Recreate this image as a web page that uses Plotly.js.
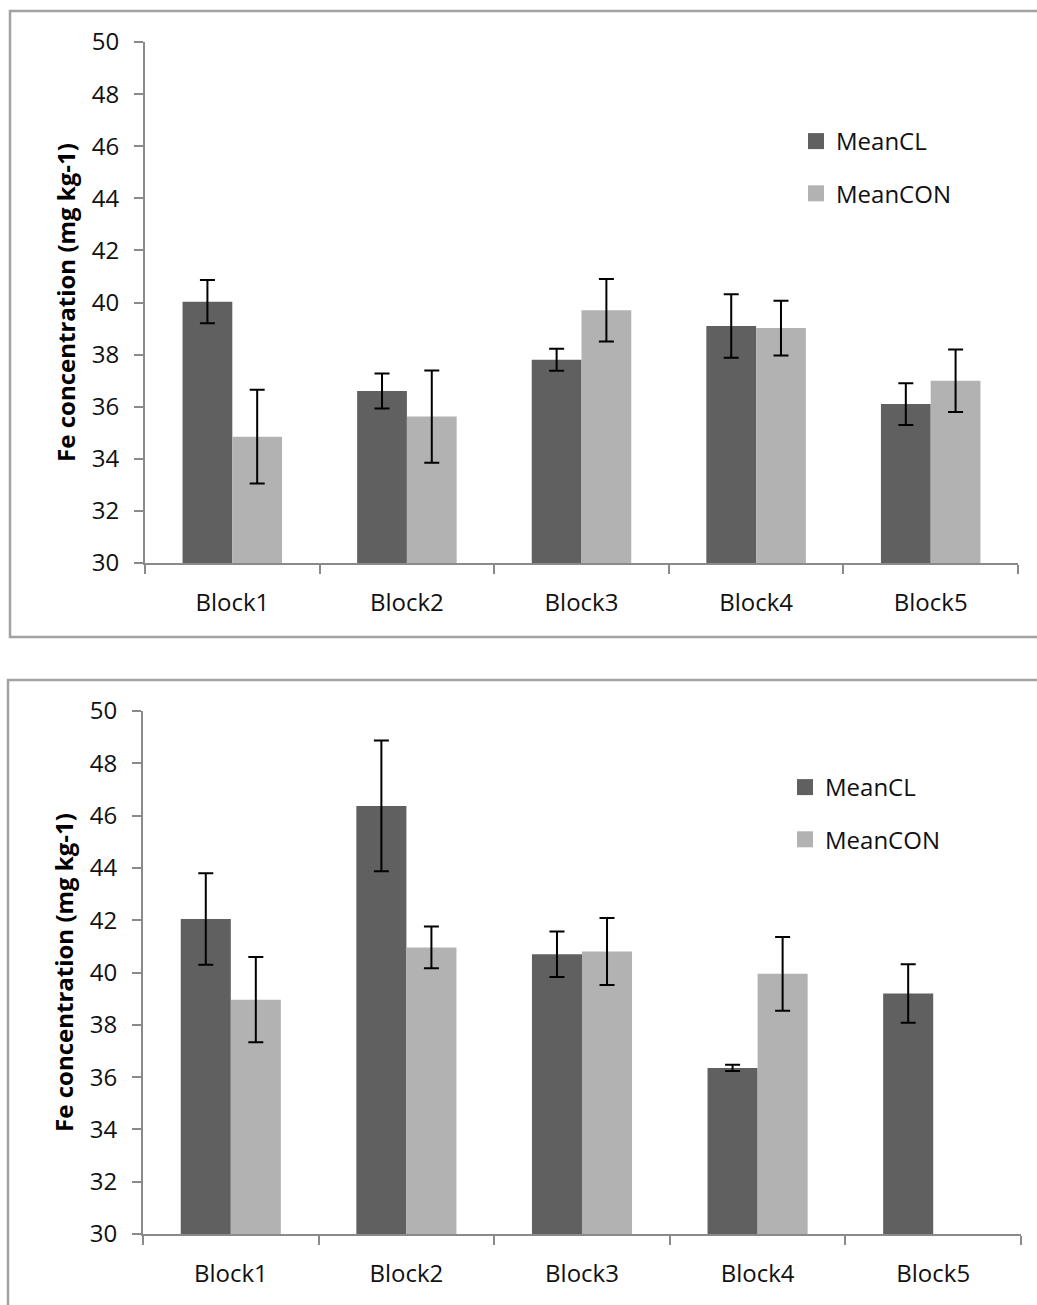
<!DOCTYPE html>
<html>
<head>
<meta charset="utf-8">
<script src="https://cdn.plot.ly/plotly-3.0.1.min.js"></script>
<style>
  html, body { margin: 0; padding: 0; background: #ffffff; }
  #chart { width: 1037px; height: 1305px; }
</style>
</head>
<body>
<div id="chart"></div>
<script>
// Fe concentration per block, two sampling sets (upper and lower panel)
const categories = ['Block1', 'Block2', 'Block3', 'Block4', 'Block5'];

const upperMeanCL     = [40.03, 36.60, 37.80, 39.10, 36.10];
const upperMeanCLErr  = [0.83, 0.67, 0.42, 1.22, 0.80];
const upperMeanCON    = [34.85, 35.62, 39.70, 39.02, 37.00];
const upperMeanCONErr = [1.80, 1.77, 1.20, 1.05, 1.20];

const lowerMeanCL     = [42.05, 46.37, 40.70, 36.35, 39.20];
const lowerMeanCLErr  = [1.75, 2.50, 0.87, 0.12, 1.12];
const lowerMeanCON    = [38.96, 40.96, 40.80, 39.95, null];
const lowerMeanCONErr = [1.63, 0.80, 1.28, 1.41, null];

const seriesNames = ['MeanCL', 'MeanCON'];
const yTitle = 'Fe concentration (mg kg-1)';

const W = 1037, H = 1305;
const DARK = '#606060', LIGHT = '#b2b2b2';
const AXIS = '#8a8a8a', FRAME = '#a3a3a3';
const FONT = 'Open Sans, Liberation Sans, sans-serif';

const px = v => v / W;          // pixel -> paper x
const py = v => 1 - v / H;      // pixel -> paper y

function errBars(arr) {
  return { type: 'data', array: arr, visible: true, color: '#000000', thickness: 2, width: 7.5 };
}

function barTrace(name, y, err, color, xa, ya, group) {
  return {
    type: 'bar', name: name, x: categories, y: y,
    xaxis: xa, yaxis: ya, legendgroup: group, showlegend: false,
    marker: { color: color, line: { width: 0 } },
    error_y: errBars(err),
    hoverinfo: 'x+y+name'
  };
}

// Legend key: a larger square swatch than the default bar key
function keyTrace(name, color, xa, ya, legendId, group) {
  return {
    type: 'scatter', mode: 'markers', name: name,
    x: [null], y: [null], xaxis: xa, yaxis: ya,
    legend: legendId, legendgroup: group, showlegend: true,
    marker: { symbol: 'square', size: 18, color: color, line: { width: 0 } },
    hoverinfo: 'skip'
  };
}

const data = [
  barTrace(seriesNames[0], upperMeanCL,  upperMeanCLErr,  DARK,  'x',  'y',  'u1'),
  barTrace(seriesNames[1], upperMeanCON, upperMeanCONErr, LIGHT, 'x',  'y',  'u2'),
  barTrace(seriesNames[0], lowerMeanCL,  lowerMeanCLErr,  DARK,  'x2', 'y2', 'l1'),
  barTrace(seriesNames[1], lowerMeanCON, lowerMeanCONErr, LIGHT, 'x2', 'y2', 'l2'),
  keyTrace(seriesNames[0], DARK,  'x',  'y',  'legend',  'u1'),
  keyTrace(seriesNames[1], LIGHT, 'x',  'y',  'legend',  'u2'),
  keyTrace(seriesNames[0], DARK,  'x2', 'y2', 'legend2', 'l1'),
  keyTrace(seriesNames[1], LIGHT, 'x2', 'y2', 'legend2', 'l2')
];

function xAxis(domain, anchor) {
  return {
    domain: domain, anchor: anchor, type: 'category',
    showline: true, linecolor: AXIS, linewidth: 2,
    ticks: 'outside', tickson: 'boundaries', ticklen: 9, tickwidth: 2, tickcolor: AXIS,
    ticklabelstandoff: 17,
    tickfont: { family: FONT, size: 24, color: '#111111' },
    showgrid: false, zeroline: false, fixedrange: true
  };
}

function yAxis(domain, anchor) {
  return {
    domain: domain, anchor: anchor, range: [30, 50], tick0: 30, dtick: 2,
    showline: true, linecolor: AXIS, linewidth: 2,
    ticks: 'outside', ticklen: 9, tickwidth: 2, tickcolor: AXIS,
    ticklabelstandoff: 10,
    tickfont: { family: FONT, size: 24, color: '#111111' },
    showgrid: false, zeroline: false, fixedrange: true,
    title: { text: yTitle, standoff: 9, font: { family: FONT, size: 24, weight: 'bold', color: '#000000' } }
  };
}

function legendBox(x, y) {
  return {
    x: x, y: y, xanchor: 'left', yanchor: 'top',
    bgcolor: 'rgba(0,0,0,0)', borderwidth: 0,
    font: { family: FONT, size: 24, color: '#111111' },
    tracegroupgap: 18, itemclick: false, itemdoubleclick: false
  };
}

const layout = {
  width: W, height: H,
  margin: { l: 0, r: 0, t: 0, b: 0, pad: 0 },
  paper_bgcolor: '#ffffff', plot_bgcolor: '#ffffff',
  barmode: 'group', bargap: 0.43, bargroupgap: 0,
  showlegend: true,
  xaxis:  xAxis([px(145), px(1018)], 'y'),
  yaxis:  yAxis([py(563), py(42)], 'x'),
  xaxis2: xAxis([px(143), px(1021)], 'y2'),
  yaxis2: yAxis([py(1234), py(711)], 'x2'),
  legend:  legendBox(px(796), py(119)),
  legend2: legendBox(px(785), py(765)),
  shapes: [
    { type: 'rect', xref: 'paper', yref: 'paper', layer: 'below',
      x0: px(10), x1: px(1060), y0: py(637), y1: py(11),
      line: { color: FRAME, width: 2.5 }, fillcolor: 'rgba(0,0,0,0)' },
    { type: 'rect', xref: 'paper', yref: 'paper', layer: 'below',
      x0: px(8), x1: px(1060), y0: py(1330), y1: py(680),
      line: { color: FRAME, width: 2.5 }, fillcolor: 'rgba(0,0,0,0)' }
  ]
};

Plotly.newPlot('chart', data, layout, { displayModeBar: false, responsive: false });
</script>
</body>
</html>
